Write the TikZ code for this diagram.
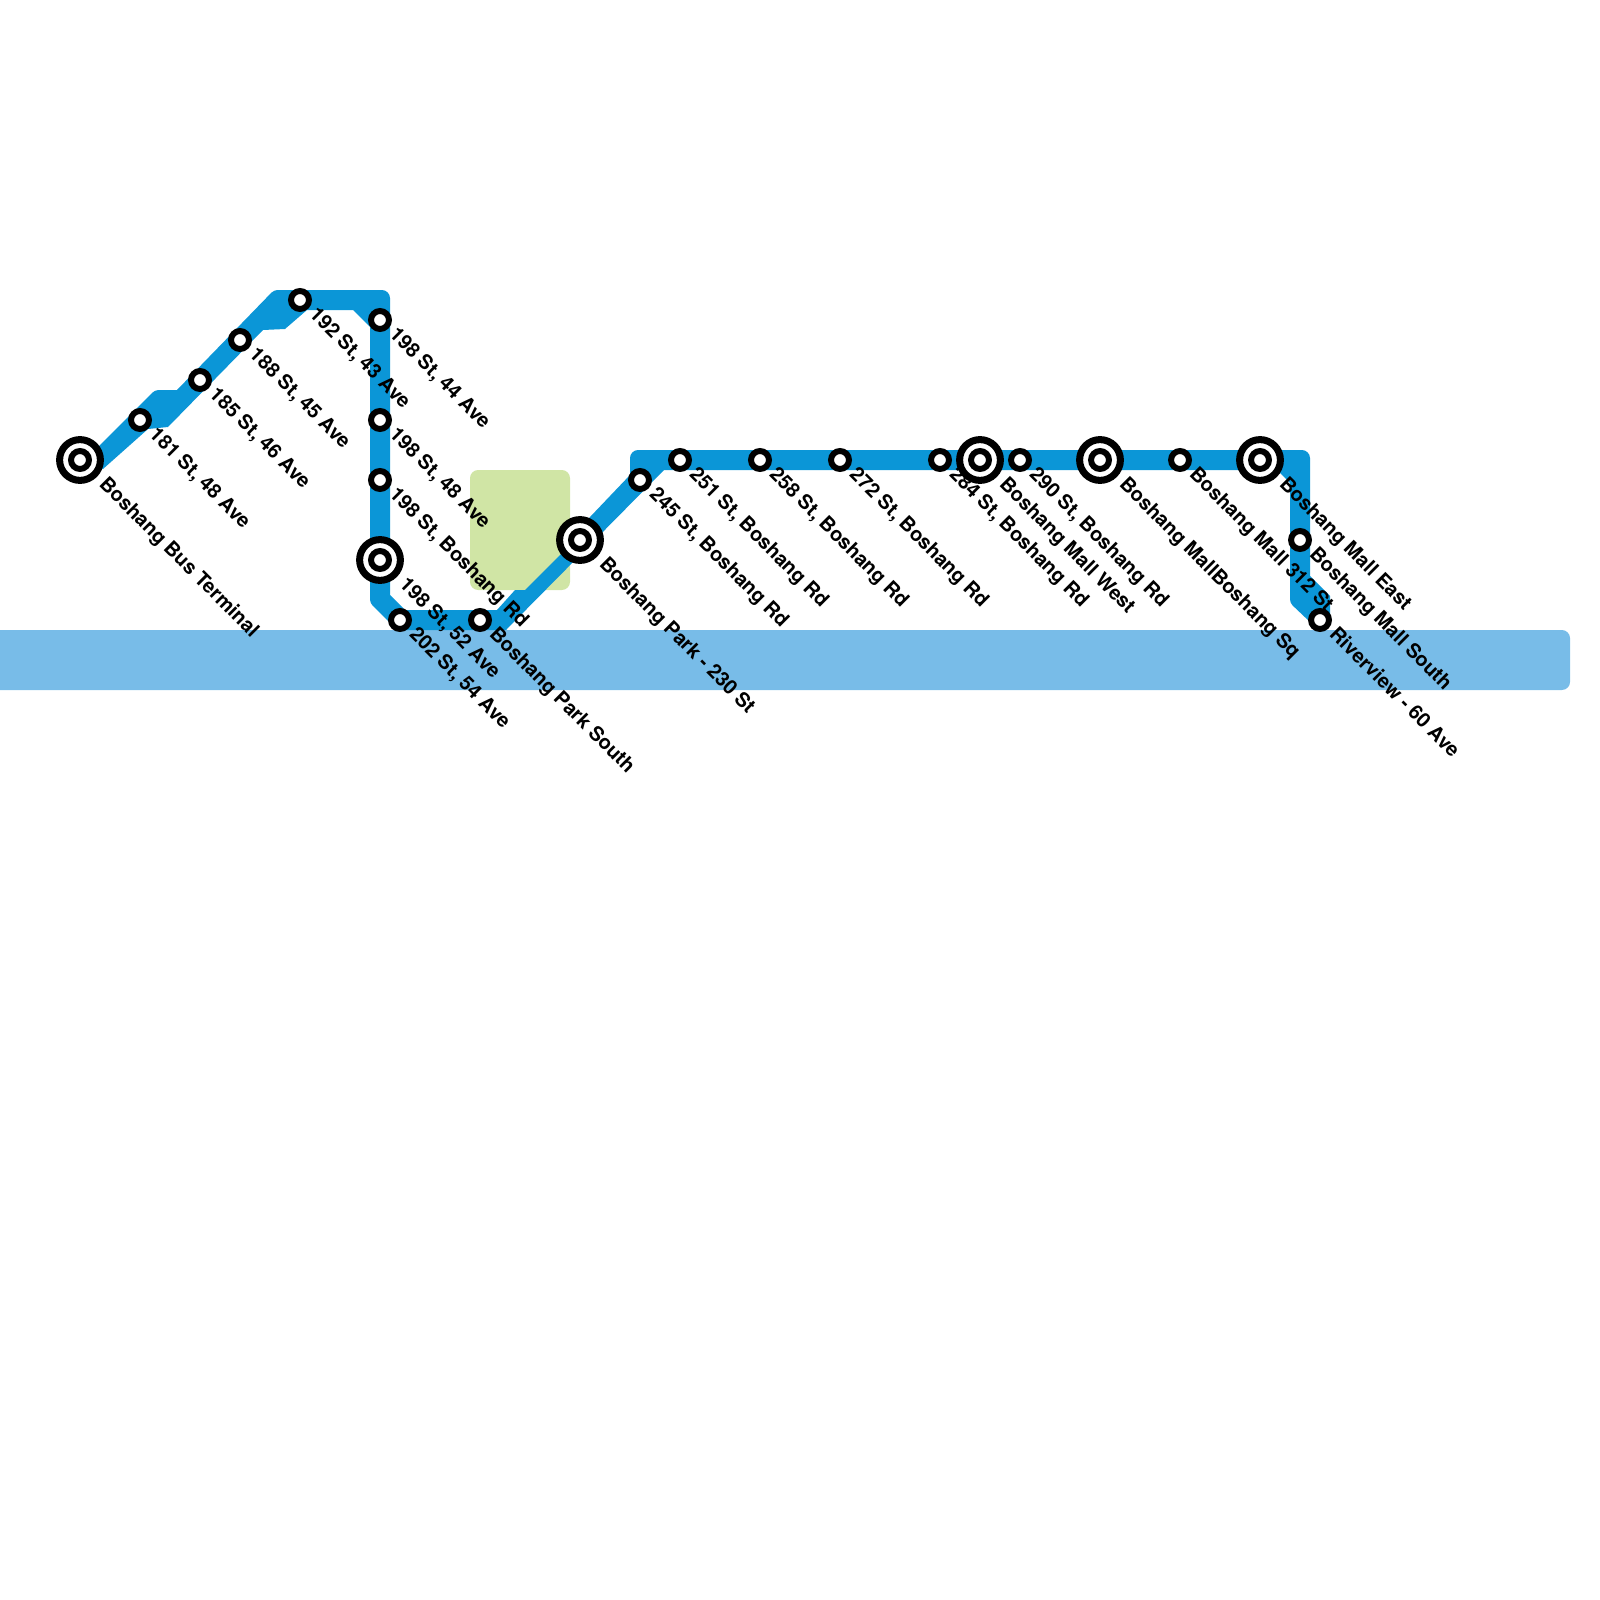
\documentclass[tikz,border=0pt]{standalone}
\usepackage{fontspec}
\setmainfont{TeX Gyre Heros}
\definecolor{linecol}{RGB}{11,150,215}
\definecolor{watercol}{RGB}{120,188,232}
\definecolor{parkcol}{RGB}{208,229,165}
\tikzset{
    stoplabel/.style={anchor=base west, rotate=-45, inner sep=0pt, font=\bfseries\fontsize{5.67}{6}\selectfont},
    smallstop/.style={circle, draw=black, fill=white, line width=1.7pt, minimum size=5.1pt, inner sep=0pt},
    bigstop/.style={circle, draw=black, fill=white, line width=2pt, minimum size=11.6pt, inner sep=0pt}
}
\begin{document}
\begin{tikzpicture}[x=0.01cm, y=-0.01cm]

\useasboundingbox (0,0) rectangle (1600,1600);

% Water
\fill[watercol, rounded corners=2.3pt] (-30,630) rectangle (1570,690);

% Park
\fill[parkcol, rounded corners=2.3pt] (470,470) rectangle (570,590);

% Line
\fill[linecol]
    (79,466) [rounded corners=1pt] -- (155,390) [sharp corners] -- (177,390)
    [rounded corners=1pt] -- (274,290) [rounded corners=2.3pt] -- (390,290) [sharp corners] -- (390,595)
    -- (405,610) -- (497,610) -- (515,590) -- (525,590) -- (562,553) -- (590,517) -- (630,475)
    [rounded corners=2.3pt] -- (630,450) -- (1310,450) [sharp corners] -- (1310,576)
    -- (1330,596) -- (1330,615) -- (1320,620) -- (1310,622) [rounded corners=1pt] -- (1290,603) [sharp corners] -- (1290,483) -- (1277,470)
    -- (664,470) -- (506,630) -- (400,630) -- (388,621) [rounded corners=1pt] -- (370,603) [sharp corners] -- (370,327)
    -- (353,310) -- (307,310) -- (285,329) -- (263,330) -- (168,427) -- (148,429) -- (103,469) -- (80,460) -- cycle;

% Big stops
\foreach \name/\x/\y in {terminal/80/460, park/580/540, mallwest/980/460, mallsq/1100/460, malleast/1260/460, st52/380/560} {
    \node[bigstop] (big\name) at (\x,\y) {};
}

% Small stops
\foreach \name/\x/\y in {terminal/80/460, st181/140/420, st185/200/380, st188/240/340, st192/300/300, st44/380/320, st48/380/420, strd/380/480, st52/380/560, st202/400/620, parksouth/480/620, park/580/540, st245/640/480, st251/680/460, st258/760/460, st272/840/460, st284/940/460, mallwest/980/460, st290/1020/460, mallsq/1100/460, st312/1180/460, malleast/1260/460, mallsouth/1300/540, river/1320/620} {
    \node[smallstop] (\name) at (\x,\y) {};
}

% Labels next to small stops
\foreach \name/\txt in {st181/{181 St, 48 Ave}, st185/{185 St, 46 Ave}, st188/{188 St, 45 Ave}, st192/{192 St, 43 Ave}, st44/{198 St, 44 Ave}, st48/{198 St, 48 Ave}, strd/{198 St, Boshang Rd}, st202/{202 St, 54 Ave}, parksouth/{Boshang Park South}, st245/{245 St, Boshang Rd}, st251/{251 St, Boshang Rd}, st258/{258 St, Boshang Rd}, st272/{272 St, Boshang Rd}, st284/{284 St, Boshang Rd}, st290/{290 St, Boshang Rd}, st312/{Boshang Mall 312 St}, mallsouth/{Boshang Mall South}, river/{Riverview - 60 Ave}} {
    \node[stoplabel] (lab\name) at ([shift={(8,15)}]\name.center) {\txt};
}

% Labels next to big stops
\foreach \name/\txt in {terminal/{Boshang Bus Terminal}, st52/{198 St, 52 Ave}, park/{Boshang Park - 230 St}, mallwest/{Boshang Mall West}, mallsq/{Boshang MallBoshang Sq}, malleast/{Boshang Mall East}} {
    \node[stoplabel] (lab\name) at ([shift={(18,25)}]\name.center) {\txt};
}

\end{tikzpicture}
\end{document}
